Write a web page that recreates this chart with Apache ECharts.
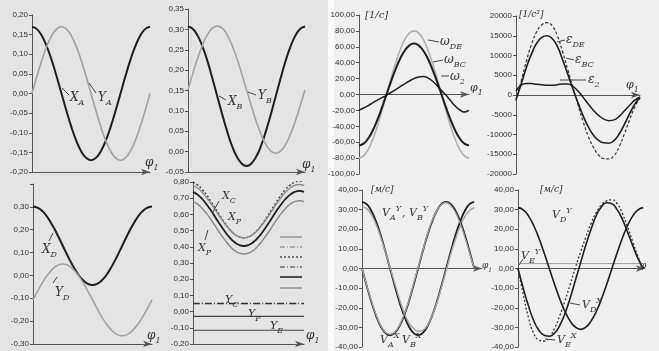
<!DOCTYPE html>
<html><head><meta charset="utf-8">
<script src="https://cdn.jsdelivr.net/npm/echarts@6/dist/echarts.min.js"></script>
<style>
html,body{margin:0;padding:0;}
#c{width:659px;height:351px;background:linear-gradient(to right,#e4e4e4 0,#e4e4e4 328px,#fafafa 328px,#fafafa 334px,#efefef 334px,#efefef 659px);}
</style></head><body><div id="c"></div>
<script>
// crank angle phi_1, degrees
const phi = [0,15,30,45,60,75,90,105,120,135,150,165,180,195,210,225,240,255,270,285,300,315,330,345,360];
// panel 1
const XA = [0.170,0.164,0.147,0.120,0.085,0.044,0.000,-0.044,-0.085,-0.120,-0.147,-0.164,-0.170,-0.164,-0.147,-0.120,-0.085,-0.044,0.000,0.044,0.085,0.120,0.147,0.164,0.170];
const YA = [0.000,0.044,0.085,0.120,0.147,0.164,0.170,0.164,0.147,0.120,0.085,0.044,0.000,-0.044,-0.085,-0.120,-0.147,-0.164,-0.170,-0.164,-0.147,-0.120,-0.085,-0.044,0.000];
// panel 2
const XB = [0.307,0.301,0.284,0.257,0.222,0.180,0.136,0.092,0.051,0.015,-0.012,-0.029,-0.035,-0.029,-0.012,0.015,0.051,0.092,0.136,0.180,0.222,0.257,0.284,0.301,0.307];
const YB = [0.152,0.192,0.230,0.262,0.287,0.303,0.308,0.303,0.287,0.262,0.230,0.192,0.152,0.112,0.074,0.042,0.017,0.001,-0.004,0.001,0.017,0.042,0.074,0.112,0.152];
// panel 3
const XD = [0.302,0.296,0.279,0.252,0.216,0.175,0.130,0.085,0.044,0.008,-0.019,-0.036,-0.042,-0.036,-0.019,0.008,0.044,0.085,0.130,0.175,0.216,0.252,0.279,0.296,0.302];
const YD = [-0.107,-0.066,-0.028,0.004,0.029,0.045,0.050,0.045,0.029,0.004,-0.028,-0.066,-0.107,-0.148,-0.186,-0.218,-0.243,-0.259,-0.264,-0.259,-0.243,-0.218,-0.186,-0.148,-0.107];
// panel 4
const XC  = [0.799,0.782,0.754,0.718,0.675,0.630,0.585,0.543,0.506,0.478,0.461,0.455,0.461,0.478,0.506,0.543,0.585,0.630,0.675,0.718,0.754,0.782,0.799,0.805,0.799];
const XP1 = [0.779,0.763,0.737,0.703,0.663,0.620,0.577,0.538,0.503,0.477,0.461,0.455,0.461,0.477,0.503,0.538,0.577,0.620,0.663,0.703,0.737,0.763,0.779,0.785,0.779];
const XP2 = [0.739,0.722,0.695,0.660,0.619,0.575,0.531,0.490,0.455,0.428,0.411,0.405,0.411,0.428,0.455,0.490,0.531,0.575,0.619,0.660,0.695,0.722,0.739,0.745,0.739];
const XE  = [0.679,0.663,0.637,0.603,0.563,0.520,0.477,0.438,0.403,0.377,0.361,0.355,0.361,0.377,0.403,0.438,0.477,0.520,0.563,0.603,0.637,0.663,0.679,0.685,0.679];
const YCv = 0.05, YPv = -0.03, YEv = -0.115;
// panel 5
const wDE = [-80,-77.3,-69.3,-56.6,-40,-20.7,0,20.7,40,56.6,69.3,77.3,80,77.3,69.3,56.6,40,20.7,0,-20.7,-40,-56.6,-69.3,-77.3,-80];
const wBC = [-64,-61.8,-55.4,-45.3,-32,-16.6,0,16.6,32,45.3,55.4,61.8,64,61.8,55.4,45.3,32,16.6,0,-16.6,-32,-45.3,-55.4,-61.8,-64];
const w2  = [-20,-17,-14,-10.5,-7,-4,-1,2.5,6,10,13.5,17,20,22,22.5,21,17,11.5,5,-1,-8,-14.5,-19.5,-22,-20];
// panel 6
const eDE = [-1500,3500,8500,12800,16000,17800,18300,17500,15000,11000,6500,2000,-2500,-6800,-10500,-13300,-15200,-16100,-16200,-15300,-13000,-9800,-6200,-3000,-800];
const eBC = [-1200,2800,6900,10400,13100,14600,15000,14300,12300,9000,5300,1600,-2000,-5300,-8100,-10200,-11500,-12100,-12200,-11500,-9800,-7400,-4700,-2300,-600];
const e2  = [1000,2500,2900,2900,2700,2600,2500,2500,2600,2800,2800,2200,1000,-600,-2300,-3900,-5200,-6100,-6500,-6300,-5400,-4000,-2600,-1300,-500];
// panel 7
const VAy = [34,32.8,29.4,24.0,17.0,8.8,0,-8.8,-17.0,-24.0,-29.4,-32.8,-34,-32.8,-29.4,-24.0,-17.0,-8.8,0,8.8,17,24,29.4,32.8,34];
const VBy = [31.5,30.5,27.5,22.5,16,8.5,0.5,-7.5,-15.5,-22.5,-27.5,-30.5,-32,-31.5,-29,-24,-17.5,-9.5,-1,7.5,15,21.5,26.5,29.5,31];
const VAx = [0,-8.8,-17,-24,-29.4,-32.8,-34,-32.8,-29.4,-24,-17,-8.8,0,8.8,17,24,29.4,32.8,34,32.8,29.4,24,17,8.8,0];
const VBx = [0,-8.5,-16.5,-23.5,-29,-32.5,-33.5,-32.5,-29,-23.5,-16.5,-8,0.5,9,17.5,24.5,29.5,32.5,33.5,32,28.5,23,16,8,0];
// panel 8
const VDy = [31,29.9,26.8,21.9,15.5,8.0,0,-8.0,-15.5,-21.9,-26.8,-29.9,-31,-29.9,-26.8,-21.9,-15.5,-8.0,0,8.0,15.5,21.9,26.8,29.9,31];
const VDx = [0,-10,-19,-26.5,-31.5,-34,-34.5,-33,-29,-23,-15,-6,3,12,20,27,31.5,33.5,33,30,25,18.5,11.5,5,0];
const VEx = [0,-13,-25,-33,-36.5,-37,-35,-30.5,-24,-16.5,-8,0.5,8.5,16,23,28.5,32.5,34.5,35,33,28,21,13.5,6,0];
const VEyv = 2.5;

const pts = a => phi.map((p,i)=>[p,a[i]]);
const flat = v => [[phi[0],v],[phi[phi.length-1],v]];
const F = 'Liberation Sans';
function f2(v){ if(Math.abs(v)<1e-9) v=0; return v.toFixed(2).replace('.',','); }

const grids = [
 {left:32,top:15,width:118,height:157},
 {left:188,top:9,width:117,height:163},
 {left:33,top:184,width:119,height:160},
 {left:193,top:182,width:111,height:162},
 {left:359,top:15,width:110,height:159},
 {left:516,top:16,width:124,height:158},
 {left:362,top:190,width:120,height:158},
 {left:518,top:190,width:127,height:159}
];
const xmax = [360,360,360,360,360,360,385,365];
const yCfg = [
 {min:-0.2,max:0.2,interval:0.05,fmt:f2},
 {min:-0.05,max:0.35,interval:0.05,fmt:f2},
 {min:-0.3,max:0.4,interval:0.1,fmt:v=>v>0.35?'':f2(v)},
 {min:-0.2,max:0.8,interval:0.1,fmt:f2},
 {min:-100,max:100,interval:20,fmt:f2},
 {min:-20000,max:20000,interval:5000,fmt:v=>String(Math.round(v))},
 {min:-40,max:40,interval:10,fmt:f2},
 {min:-40,max:40,interval:10,fmt:f2}
];
const xAxis = grids.map((g,i)=>({type:'value',gridIndex:i,min:0,max:xmax[i],
  axisLabel:{show:false},axisTick:{show:false},splitLine:{show:false},
  axisLine:{show:true,onZero:i>=4,symbol:['none','arrow'],symbolSize:[5,9],lineStyle:{color:'#555',width:1}}}));
const yAxis = yCfg.map((c,i)=>({type:'value',gridIndex:i,min:c.min,max:c.max,interval:c.interval,
  splitLine:{show:false},axisLine:{show:true,lineStyle:{color:'#555',width:1}},
  axisTick:{show:true,length:3,lineStyle:{color:'#555'}},
  axisLabel:{formatter:c.fmt,fontSize:8,color:'#333',fontFamily:F,margin:4}}));

const BLK='#1e1e1e', GRY='#a2a2a2';
function S(name,gi,data,color,width,type){
  return {name,type:'line',xAxisIndex:gi,yAxisIndex:gi,data,smooth:true,symbol:'none',
    lineStyle:{color,width,type:type||'solid'},emphasis:{disabled:true},z:3};
}
const series = [
 S('XA',0,pts(XA),BLK,2), S('YA',0,pts(YA),GRY,1.6),
 S('XB',1,pts(XB),BLK,2), S('YB',1,pts(YB),GRY,1.6),
 S('XD',2,pts(XD),BLK,2), S('YD',2,pts(YD),GRY,1.6),
 S('XC',3,pts(XC),'#333',1.3,[2,2]), S('XP1',3,pts(XP1),'#8a8a8a',1.5), S('XP2',3,pts(XP2),BLK,1.8), S('XE',3,pts(XE),'#8a8a8a',1.5),
 S('YC',3,flat(YCv),'#333',1.3,[7,2,1,2]), S('YP',3,flat(YPv),'#444',1.2), S('YE',3,flat(YEv),'#444',1.2),
 S('wDE',4,pts(wDE),'#b0b0b0',1.6), S('wBC',4,pts(wBC),BLK,2), S('w2',4,pts(w2),BLK,1.5),
 S('eDE',5,pts(eDE),'#333',1.2,[3,2]), S('eBC',5,pts(eBC),BLK,1.6), S('e2',5,pts(e2),BLK,1.5),
 S('VAy',6,pts(VAy),BLK,1.8), S('VBy',6,pts(VBy),GRY,1.4), S('VAx',6,pts(VAx),BLK,1.8), S('VBx',6,pts(VBx),GRY,1.3),
 S('VEy',7,flat(VEyv),'#999',1), S('VDy',7,pts(VDy),BLK,1.6), S('VDx',7,pts(VDx),BLK,1.6), S('VEx',7,pts(VEx),'#333',1.3,[2,2])
];

const TF='DejaVu Serif';
function T(x,y,m,sub,sup,fs){
  fs=fs||12;
  let txt='{m|'+m+'}'+(sub?'{s|'+sub+'}':'')+(sup?'{p|'+sup+'}':'');
  return {type:'text',x,y,z:50,style:{text:txt,verticalAlign:'middle',
    rich:{m:{fontSize:fs,fontFamily:TF,fontStyle:'italic',fill:'#333',lineHeight:fs+6},
          s:{fontSize:Math.round(fs*0.7),fontFamily:TF,fontStyle:'italic',fill:'#333',verticalAlign:'bottom',lineHeight:fs+6},
          p:{fontSize:Math.round(fs*0.7),fontFamily:TF,fontStyle:'italic',fill:'#333',verticalAlign:'top',lineHeight:fs+6}}}};
}
function L(x1,y1,x2,y2,c,w,d){return {type:'line',z:50,shape:{x1,y1,x2,y2},style:{stroke:c||'#444',lineWidth:w||1,lineDash:d||null}};}
const graphic = [
 T(70,98,'X','A'), T(98,98,'Y','A'), T(145,163,'φ','1'), L(62,88,69,95), L(89,83,96,93),
 T(228,102,'X','B'), T(258,96,'Y','B'), T(302,165,'φ','1'), L(219,96,226,100), L(248,92,256,95),
 T(42,250,'X','D'), T(55,293,'Y','D'), T(147,336,'φ','1'), L(49,241,53,233), L(53,283,57,277),
 T(222,196,'X','C',null,11), T(228,217,'X','P',null,11), T(198,248,'X','P',null,11), L(219,201,213,212), L(205,240,208,230),
 T(225,300,'Y','C',null,11), T(248,314,'Y','P',null,11), T(270,326,'Y','E',null,11), T(306,336,'φ','1'),
 L(280,237,302,237,'#888',1.3), L(280,247,302,247,'#777',1.2,[5,2,1,2]), L(280,257,302,257,'#333',1.2,[2,2]),
 L(280,267,302,267,'#333',1.2,[5,2,1,2]), L(280,277,302,277,'#222',1.6), L(280,288,302,288,'#888',1.3),
 T(365,15,'[1/c]',null,null,10), T(440,42,'ω','DE',null,12), T(444,60,'ω','BC',null,12), T(450,77,'ω','2',null,12), T(470,88,'φ','1',null,11),
 L(428,40,439,42), L(433,62,443,60), L(441,76,449,76),
 T(519,15,'[1/c²]',null,null,9), T(566,40,'ε','DE',null,12), T(575,60,'ε','BC',null,12), T(588,80,'ε','2',null,12), T(626,85,'φ','1',null,11),
 L(557,42,565,40), L(566,58,574,60), L(560,80,586,80),
 T(371,190,'[м/с]',null,null,9), T(382,213,'V','A','Y',11), T(402,213,', V','B','Y',11), T(380,340,'V','A','X',11), T(402,340,'V','B','X',11), T(482,266,'φ','1',null,9),
 T(540,190,'[м/с]',null,null,9), T(552,215,'V','D','Y',11), T(521,256,'V','E','Y',11), T(582,305,'V','D','X',11), T(557,340,'V','E','X',11), T(640,266,'φ',null,null,9),
 L(545,339,555,340), L(570,303,580,305), L(519,265,523,259)
];

const chart = echarts.init(document.getElementById('c'),null,{renderer:'canvas'});
chart.setOption({backgroundColor:'transparent',animation:false,grid:grids,xAxis,yAxis,series,graphic});
</script></body></html>
